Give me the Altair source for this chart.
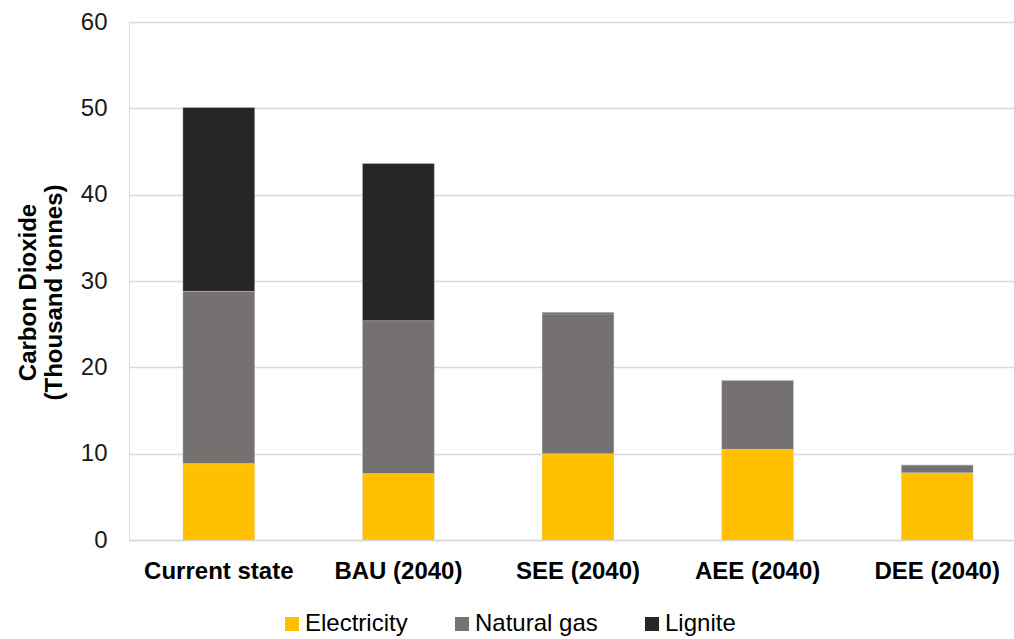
import altair as alt
import pandas as pd

# Scenario categories and emissions by fuel (thousand tonnes CO2)
scenarios = ["Current state", "BAU (2040)", "SEE (2040)", "AEE (2040)", "DEE (2040)"]
electricity = [8.85, 7.7, 10.0, 10.5, 7.8]
natural_gas = [19.95, 17.7, 16.2, 8.0, 0.9]
lignite = [21.3, 18.2, 0.15, 0.0, 0.0]

fuels = ["Electricity", "Natural gas", "Lignite"]
fuel_colors = ["#FFC000", "#767171", "#262626"]

rows = []
for i, s in enumerate(scenarios):
    for k, (fuel, vals) in enumerate(zip(fuels, [electricity, natural_gas, lignite])):
        rows.append({"scenario": s, "fuel": fuel, "value": vals[i], "stack": k})
df = pd.DataFrame(rows)

font = "Liberation Sans"

chart = (
    alt.Chart(df)
    .mark_bar(stroke="#d9d9d9", strokeWidth=0.6, strokeOpacity=0.6)
    .encode(
        x=alt.X(
            "scenario:N",
            sort=scenarios,
            # band range runs a little past the right edge of the plot
            scale=alt.Scale(range=[0, 898], paddingInner=0.6, paddingOuter=0.3),
            axis=alt.Axis(
                title=None,
                labelAngle=0,
                labelFont=font,
                labelFontSize=24,
                labelFontWeight="bold",
                labelColor="#000000",
                labelPadding=19,
                ticks=False,
                domainColor="#d9d9d9",
                domainWidth=1.5,
            ),
        ),
        y=alt.Y(
            "value:Q",
            stack="zero",
            scale=alt.Scale(domain=[0, 60], nice=False),
            axis=alt.Axis(
                values=[0, 10, 20, 30, 40, 50, 60],
                title=["Carbon Dioxide", "(Thousand tonnes)"],
                titleFont=font,
                titleFontSize=24,
                titleFontWeight="bold",
                titleColor="#000000",
                titlePadding=14,
                titleLineHeight=26,
                titleY=270,
                labelFont=font,
                labelFontSize=24,
                labelColor="#1a1a1a",
                labelPadding=22,
                ticks=False,
                domain=False,
                gridColor="#d9d9d9",
                gridWidth=1.5,
            ),
        ),
        color=alt.Color(
            "fuel:N",
            sort=fuels,
            scale=alt.Scale(domain=fuels, range=fuel_colors),
            legend=alt.Legend(
                title=None,
                orient="none",
                direction="horizontal",
                legendX=151,
                legendY=590,
                symbolType="square",
                symbolSize=196,
                symbolStrokeWidth=0,
                labelFont=font,
                labelFontSize=24,
                labelColor="#000000",
                labelOffset=1,
                columnPadding=42,
            ),
        ),
        order=alt.Order("stack:Q", sort="ascending"),
    )
    .properties(
        width=885,
        height=518,
        autosize=alt.AutoSizeParams(type="none"),
        padding={"left": 129, "top": 22, "right": 0, "bottom": 99},
    )
    .configure_view(stroke=None)
    .configure(background="#ffffff")
)

chart.save("out.html", embed_options={"renderer": "svg", "actions": False})
